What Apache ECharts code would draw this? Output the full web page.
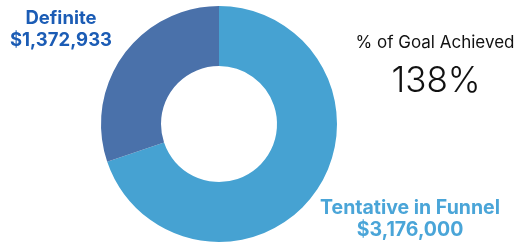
<!DOCTYPE html>
<html><head><meta charset="utf-8">
<script src="https://cdn.jsdelivr.net/npm/echarts@6/dist/echarts.min.js"></script>
<style>html,body{margin:0;padding:0;background:#fff}#c{width:523px;height:245px}</style>
</head><body><div id="c"></div>
<script>
const categories = ["Tentative in Funnel", "Definite"];
const values = [3176000, 1372933];
const goalLabel = "% of Goal Achieved";
const goalPct = "138%";

const colors = ["#46a2d2", "#4a71aa"];
const labelColors = ["#4aa5d8", "#1b5cb5"];
const labelPos = [{x: 410, y: 219}, {x: 61, y: 29}];

const chart = echarts.init(document.getElementById('c'));
chart.setOption({
  animation: false,
  series: [{
    type: 'pie',
    center: [219, 124],
    radius: [58, 118],
    startAngle: 90,
    clockwise: true,
    data: categories.map((n, i) => ({
      name: n, value: values[i],
      itemStyle: {color: colors[i]},
      label: {color: labelColors[i], fontSize: i === 0 ? 19.5 : 18.5}
    })),
    labelLine: {show: false},
    label: {
      show: true,
      position: 'outside',
      overflow: 'none',
      fontFamily: 'Inter',
      fontWeight: 'bold',
      lineHeight: 22,
      align: 'center',
      formatter: p => p.name + '\n$' + p.value.toLocaleString('en-US')
    },
    labelLayout: p => ({x: labelPos[p.dataIndex].x, y: labelPos[p.dataIndex].y, align: 'center', verticalAlign: 'middle'}),
    emphasis: {disabled: true}
  }],
  graphic: [
    {type: 'text', x: 435, y: 43, style: {text: goalLabel, fontFamily: 'Inter', fontSize: 17, fill: '#111', align: 'center', verticalAlign: 'middle'}},
    {type: 'text', x: 436, y: 81, style: {text: goalPct, fontFamily: 'Inter', fontSize: 35, fontWeight: 300, fill: '#111', align: 'center', verticalAlign: 'middle'}}
  ]
});
</script></body></html>
